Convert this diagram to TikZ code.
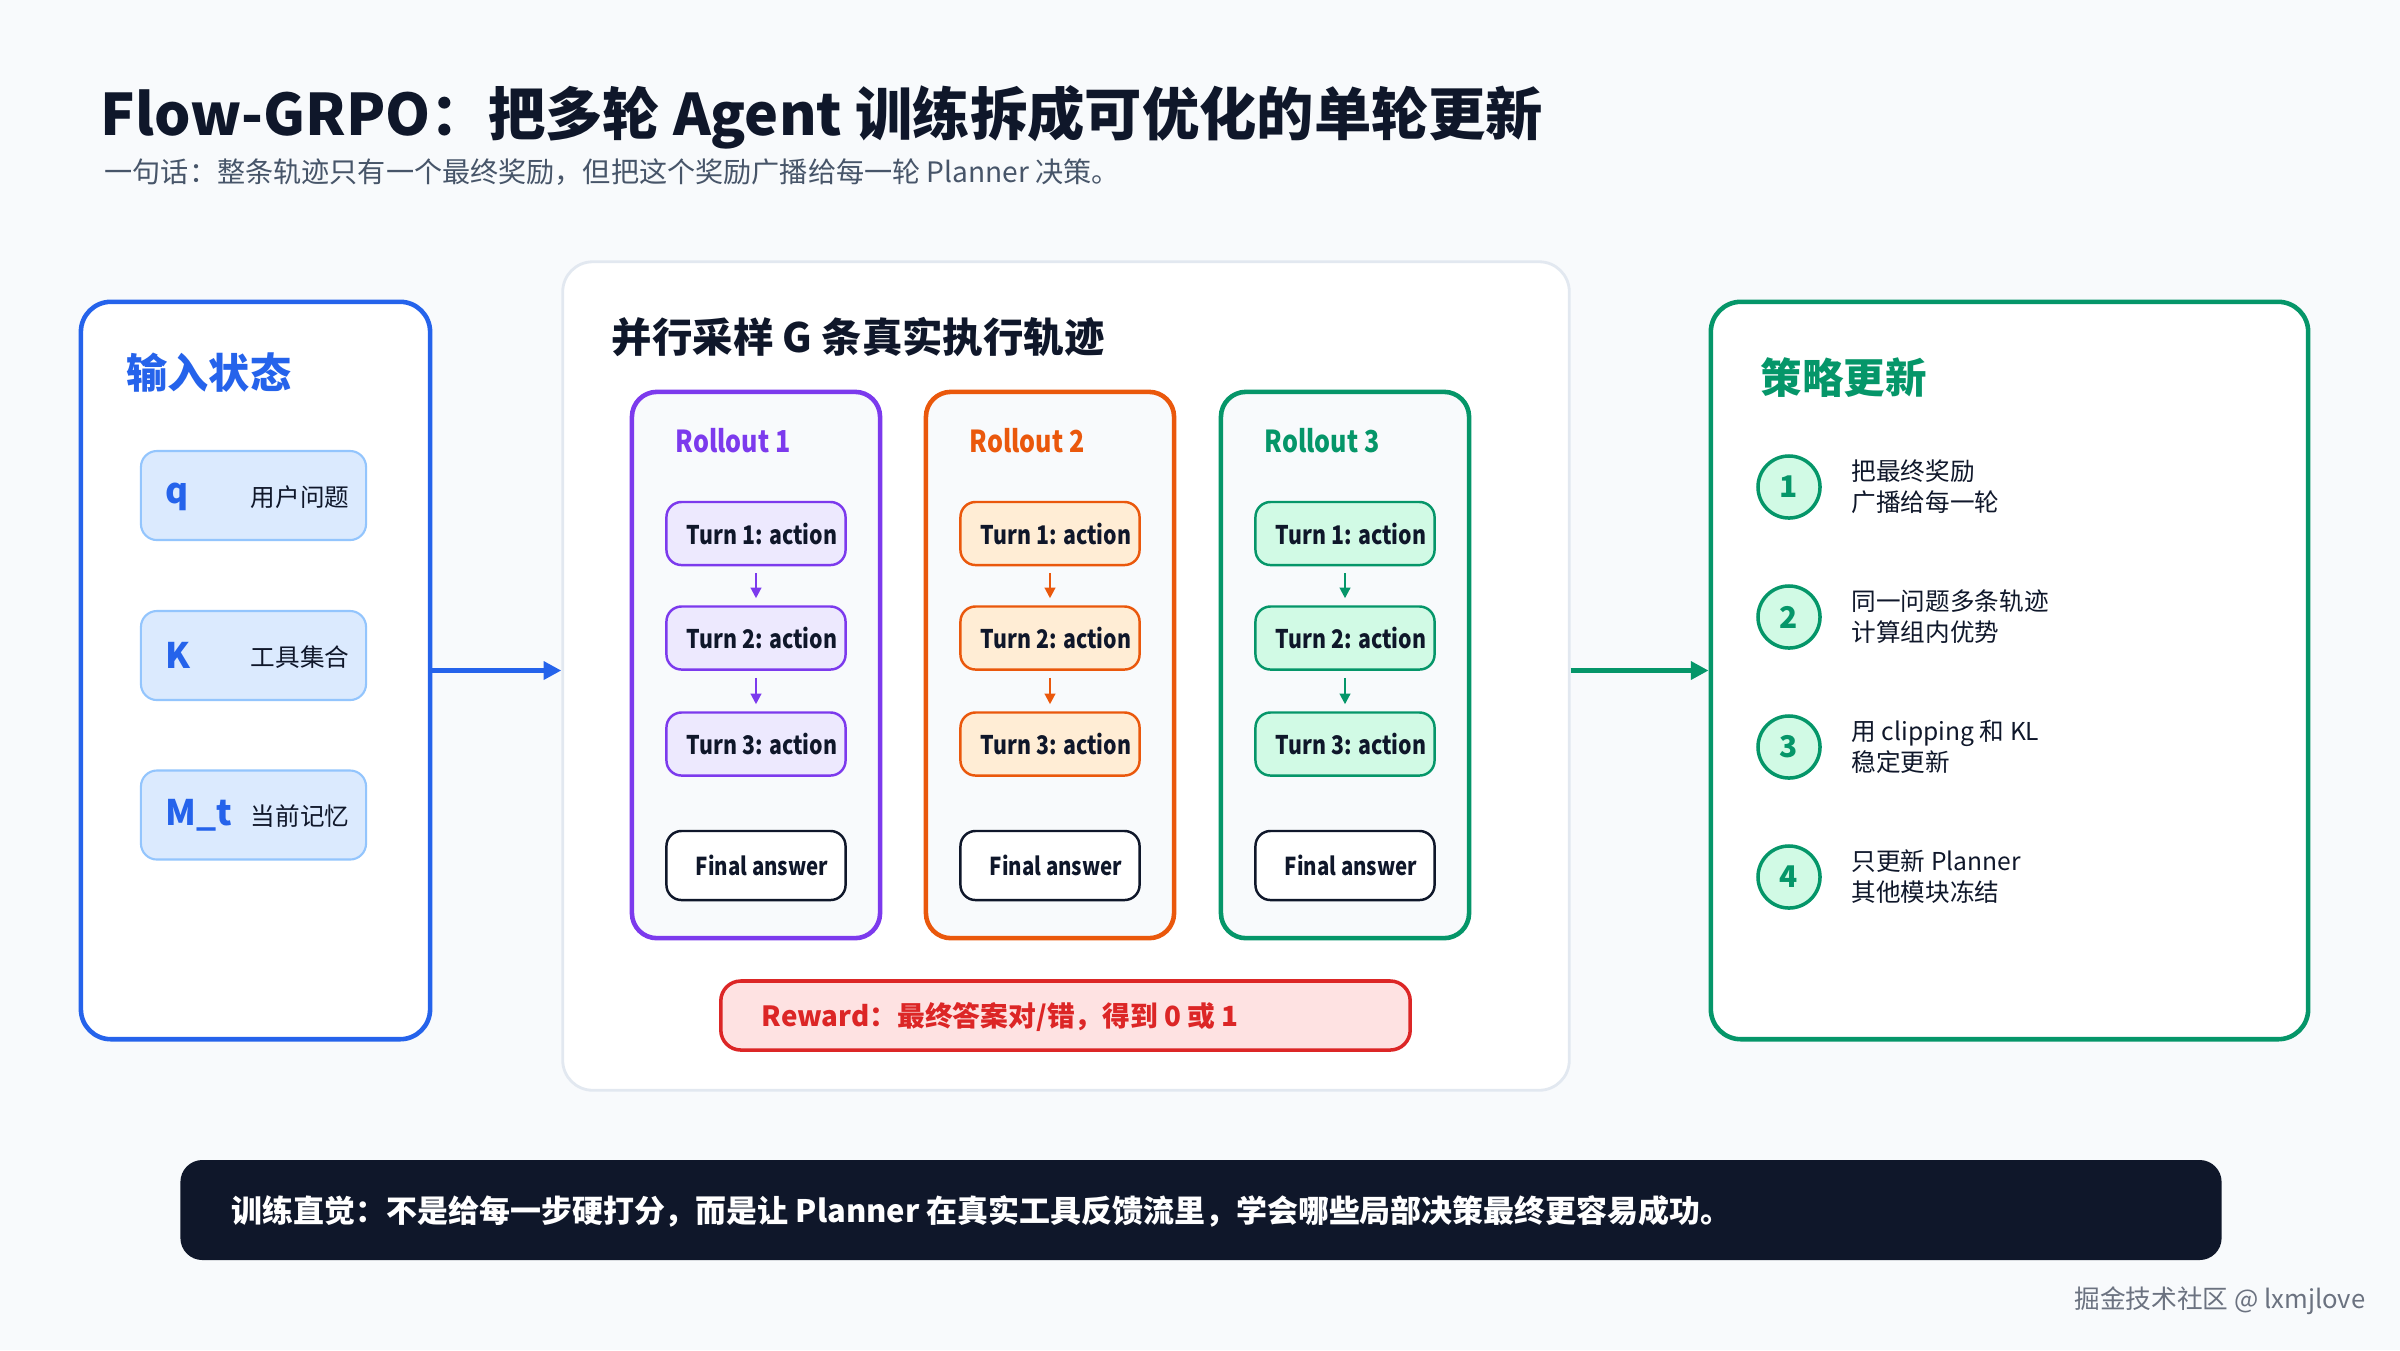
\documentclass[tikz,border=0pt]{standalone}
\usepackage{fontspec}
\setmainfont{Noto Sans CJK SC}
\newfontfamily\condfont{Noto Sans CJK SC}[FakeStretch=0.83]
\usetikzlibrary{arrows.meta}
\definecolor{bgc}{HTML}{F8FAFC}
\definecolor{dark}{HTML}{0F172A}
\definecolor{graytxt}{HTML}{475569}
\definecolor{bluec}{HTML}{2563EB}
\definecolor{bluefill}{HTML}{DBEAFE}
\definecolor{blueline}{HTML}{93C5FD}
\definecolor{purc}{HTML}{7C3AED}
\definecolor{purfill}{HTML}{EDE9FE}
\definecolor{orac}{HTML}{EA580C}
\definecolor{orafill}{HTML}{FFEDD5}
\definecolor{grec}{HTML}{059669}
\definecolor{grefill}{HTML}{D1FAE5}
\definecolor{redc}{HTML}{DC2626}
\definecolor{redfill}{HTML}{FEE2E2}
\definecolor{midline}{HTML}{E2E8F0}
\definecolor{rollfill}{HTML}{F8FAFC}
\definecolor{wmark}{HTML}{6B7280}
\newcommand{\padl}{\hspace*{3.4pt}}
\begin{document}
\begin{tikzpicture}[x=0.01cm,y=-0.01cm,
  txt/.style={inner sep=0pt, anchor=west},
  panel/.style={draw, rounded corners=0.3cm, line width=1.3pt, fill=white},
  inbox/.style={draw=blueline, fill=bluefill, rounded corners=0.16cm, line width=0.6pt, minimum width=2.25cm, minimum height=0.89cm},
  rollbox/.style={draw, fill=rollfill, rounded corners=0.25cm, line width=1.3pt, minimum width=2.48cm, minimum height=5.46cm},
  turnbox/.style={rounded corners=0.15cm, line width=0.7pt, inner sep=0pt, minimum width=1.79cm, minimum height=0.63cm, font=\condfont\bfseries\fontsize{7.3}{9}\selectfont, text=dark},
  finalbox/.style={draw=dark, fill=white, rounded corners=0.15cm, line width=0.7pt, inner sep=0pt, minimum width=1.79cm, minimum height=0.69cm, font=\condfont\bfseries\fontsize{7}{9}\selectfont, text=dark},
  tarrow/.style={-{Triangle[length=3pt,width=3pt]}, line width=0.6pt, shorten <=2pt, shorten >=2pt},
  bigarrow/.style={-{Triangle[length=5pt,width=5pt]}, line width=1.4pt},
  numc/.style={circle, draw=grec, fill=grefill, line width=1pt, minimum size=0.62cm, inner sep=0pt, text=grec, font=\fontsize{8.5}{10}\selectfont\bfseries},
  item/.style={txt, align=left, text=dark, font=\fontsize{7}{8.8}\selectfont}
]
\fill[bgc] (0,0) rectangle (2400,1350);
\useasboundingbox (0,0) rectangle (2400,1350);

% title
\node[txt, text=dark, font=\fontsize{16.3}{20}\selectfont\bfseries] (title) at (100,117) {Flow-GRPO：把多轮 Agent 训练拆成可优化的单轮更新};
\node[txt, text=graytxt, font=\fontsize{8}{10}\selectfont] (subtitle) at (104,172) {一句话：整条轨迹只有一个最终奖励，但把这个奖励广播给每一轮 Planner 决策。};

% left panel
\node[panel, draw=bluec, minimum width=3.49cm, minimum height=7.37cm] (left) at (255.5,670.5) {};
\node[txt, text=bluec, font=\fontsize{11.7}{14}\selectfont\bfseries] (lt) at (126,373) {输入状态};
\node[inbox] (q) at (253.5,495.5) {};
\node[inbox] (k) at (253.5,655.5) {};
\node[inbox] (m) at (253.5,815) {};
\node[txt, text=bluec, font=\fontsize{10}{12}\selectfont\bfseries] (qa) at (165,497) {q};
\node[txt, text=bluec, font=\fontsize{10}{12}\selectfont\bfseries] (ka) at (165,655.5) {K};
\node[txt, text=bluec, font=\fontsize{10}{12}\selectfont\bfseries] (ma) at (165,815) {M\_t};
\node[inner sep=0pt, anchor=east, text=dark, font=\fontsize{7}{9}\selectfont] (qb) at (350,497) {用户问题};
\node[inner sep=0pt, anchor=east, text=dark, font=\fontsize{7}{9}\selectfont] (kb) at (350,657) {工具集合};
\node[inner sep=0pt, anchor=east, text=dark, font=\fontsize{7}{9}\selectfont] (mb) at (350,816) {当前记忆};

% middle panel
\node[panel, draw=midline, line width=0.8pt, minimum width=10.06cm, minimum height=8.28cm] (mid) at (1066,676) {};
\node[txt, text=dark, font=\fontsize{11.5}{14}\selectfont\bfseries] (mt) at (611,337) {并行采样 G 条真实执行轨迹};

% rollouts
\foreach \i/\cx/\c/\f in {1/756/purc/purfill, 2/1050/orac/orafill, 3/1345/grec/grefill}{
  \node[rollbox, draw=\c] (r\i) at (\cx,665) {};
  \node[txt, text=\c, font=\condfont\bfseries\fontsize{8.6}{11}\selectfont] (r\i t) at (\cx-81,441) {Rollout \i};
  \node[turnbox, draw=\c, fill=\f] (r\i a) at (\cx,533.5) {\padl Turn 1: action};
  \node[turnbox, draw=\c, fill=\f] (r\i b) at (\cx,638) {\padl Turn 2: action};
  \node[turnbox, draw=\c, fill=\f] (r\i c) at (\cx,744) {\padl Turn 3: action};
  \node[finalbox] (r\i f) at (\cx,865.5) {\padl Final answer};
  \draw[tarrow, \c] (r\i a.south) -- (r\i b.north);
  \draw[tarrow, \c] (r\i b.south) -- (r\i c.north);
}

% reward
\node[draw=redc, fill=redfill, rounded corners=0.2cm, line width=1pt, minimum width=6.89cm, minimum height=0.69cm] (reward) at (1065.5,1015.5) {};
\node[txt, text=redc, font=\fontsize{7.9}{10}\selectfont\bfseries] (rt) at (761,1017) {Reward：最终答案对/错，得到 0 或 1};

% right panel
\node[panel, draw=grec, minimum width=5.97cm, minimum height=7.37cm] (right) at (2009.5,670.5) {};
\node[txt, text=grec, font=\fontsize{11.8}{14}\selectfont\bfseries] (rtl) at (1760,378) {策略更新};
\node[numc] (n1) at (1789,487) {1};
\node[numc] (n2) at (1789,617) {2};
\node[numc] (n3) at (1789,747) {3};
\node[numc] (n4) at (1789,877) {4};
\node[item] (i1) at (1851,487) {把最终奖励\\广播给每一轮};
\node[item] (i2) at (1851,617) {同一问题多条轨迹\\计算组内优势};
\node[item] (i3) at (1851,747) {用 clipping 和 KL\\稳定更新};
\node[item] (i4) at (1851,877) {只更新 Planner\\其他模块冻结};

% arrows
\draw[bigarrow, bluec] (left.east) -- (left.east -| mid.west);
\draw[bigarrow, grec] (mid.east |- right.west) -- (right.west);

% bottom bar
\node[fill=dark, rounded corners=0.22cm, minimum width=20.4cm, minimum height=1.0cm] (bar) at (1201,1210) {};
\node[txt, text=white, font=\fontsize{8.8}{11}\selectfont\bfseries] (bt) at (231,1211) {训练直觉：不是给每一步硬打分，而是让 Planner 在真实工具反馈流里，学会哪些局部决策最终更容易成功。};

% watermark
\node[inner sep=0pt, anchor=east, text=wmark, font=\fontsize{7.3}{9}\selectfont] (wm) at (2366,1301) {掘金技术社区 @ lxmjlove};
\end{tikzpicture}
\end{document}
